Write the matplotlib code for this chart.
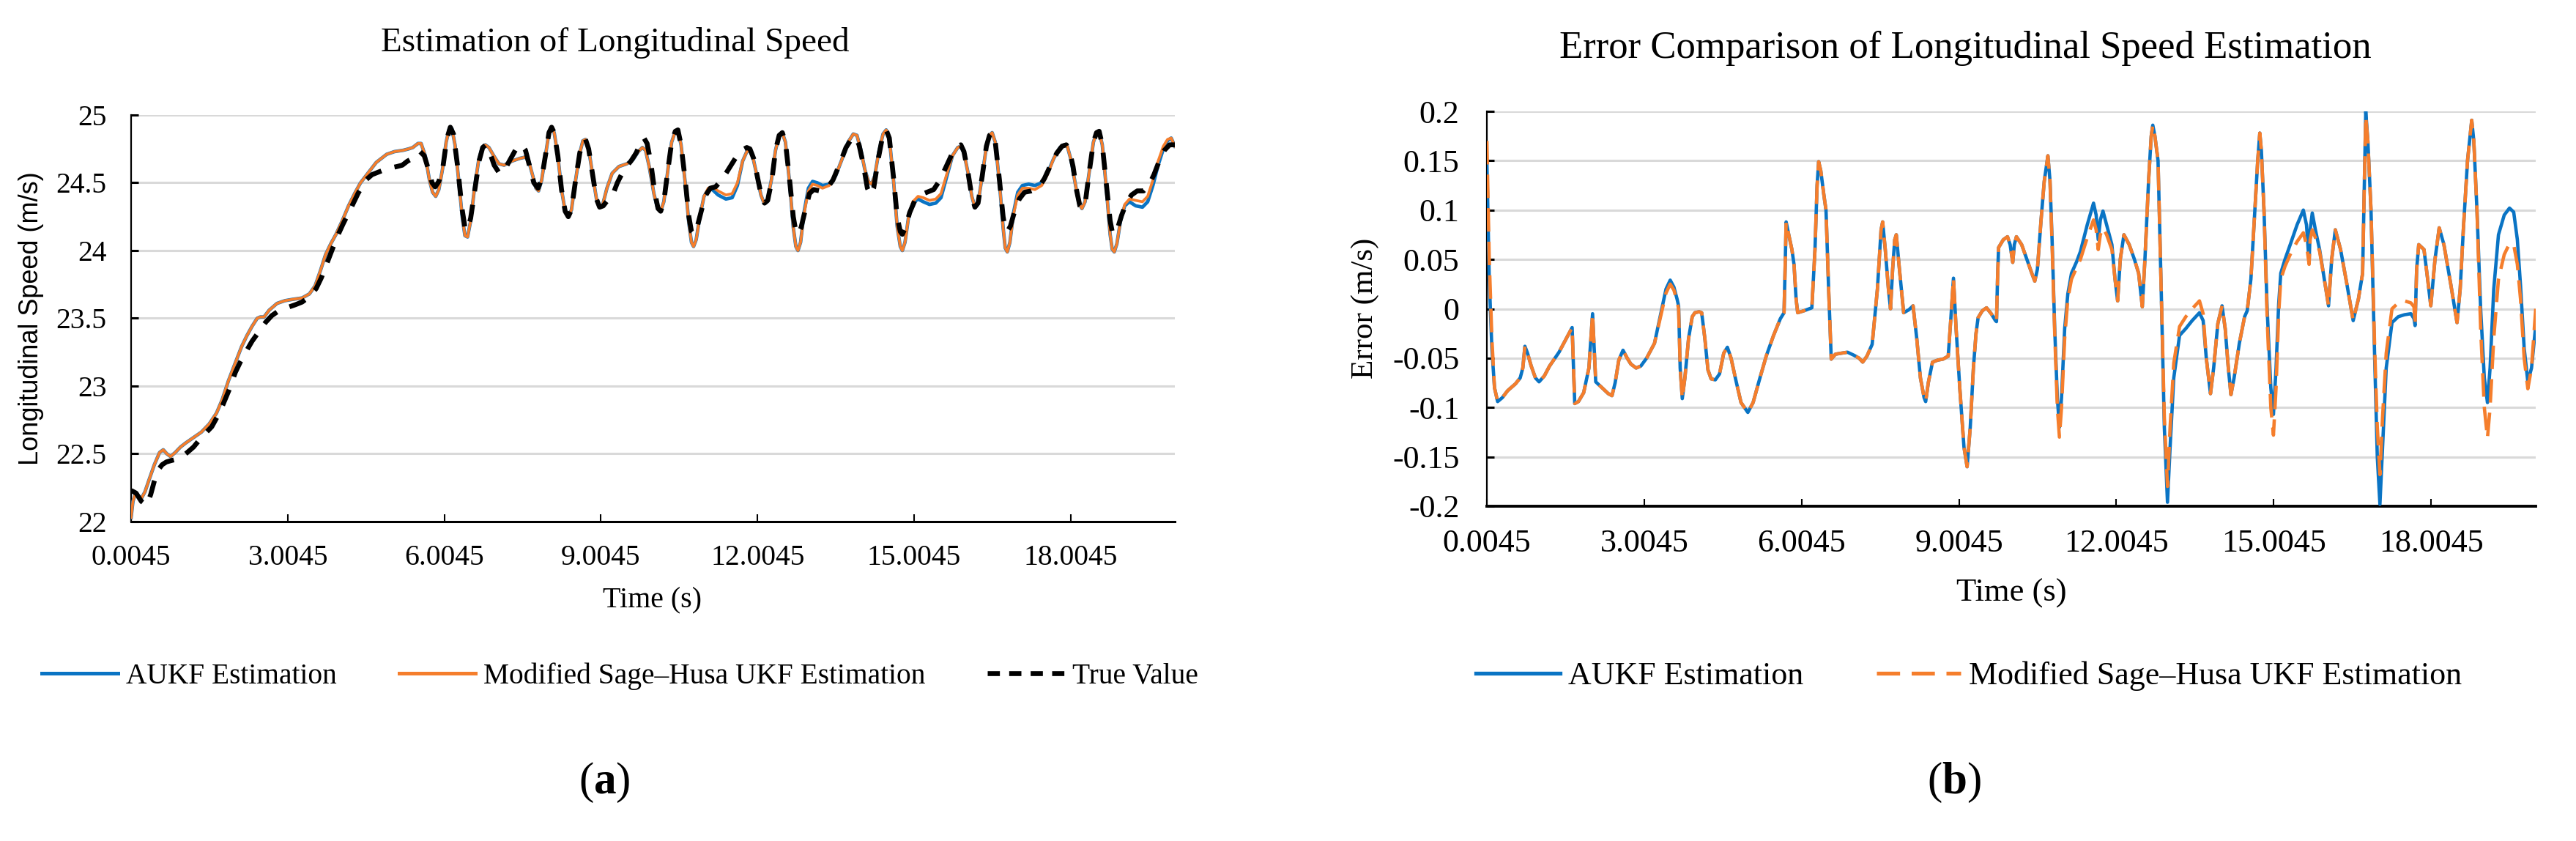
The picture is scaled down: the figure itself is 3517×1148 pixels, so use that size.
import matplotlib
matplotlib.use("Agg")
import matplotlib.pyplot as plt
from matplotlib.lines import Line2D

plt.rcParams['font.family'] = ['Liberation Serif', 'DejaVu Serif']
plt.rcParams['mathtext.fontset'] = 'custom'
plt.rcParams['mathtext.rm'] = 'Liberation Serif'
plt.rcParams['mathtext.bf'] = 'Liberation Serif:bold'

BLUE = '#0A74C4'
ORANGE = '#F57E2C'

# ---------------- (a) Longitudinal speed (m/s) ----------------
t_spd = [0.0045, 0.04, 0.08, 0.14, 0.2, 0.27, 0.35, 0.45, 0.55, 0.62,
         0.69, 0.76, 0.85, 0.95, 1.05, 1.2, 1.35, 1.5, 1.64, 1.75,
         1.87, 2.0, 2.12, 2.22, 2.32, 2.42, 2.48, 2.55, 2.65, 2.8,
         2.95, 3.1, 3.28, 3.42, 3.53, 3.63, 3.73, 3.83, 3.93, 4.05,
         4.17, 4.3, 4.4, 4.5, 4.6, 4.7, 4.8, 4.9, 5.05, 5.22,
         5.32, 5.40, 5.50, 5.56, 5.64, 5.72, 5.78, 5.84, 5.90, 5.97,
         6.04, 6.10, 6.15, 6.21, 6.28, 6.35, 6.40, 6.45, 6.51, 6.58,
         6.66, 6.73, 6.79, 6.86, 6.95, 7.05, 7.15, 7.30, 7.45, 7.56,
         7.63, 7.70, 7.76, 7.81, 7.87, 7.95, 8.01, 8.06, 8.11, 8.18,
         8.25, 8.32, 8.38, 8.44, 8.52, 8.60, 8.66, 8.71, 8.77, 8.85,
         8.92, 8.98, 9.04, 9.12, 9.22, 9.35, 9.50, 9.62, 9.72, 9.80,
         9.86, 9.93, 10.02, 10.09, 10.15, 10.21, 10.29, 10.36, 10.43, 10.48,
         10.54, 10.62, 10.69, 10.74, 10.78, 10.83, 10.90, 10.98, 11.06, 11.14,
         11.25, 11.40, 11.52, 11.62, 11.72, 11.80, 11.85, 11.91, 11.99, 12.07,
         12.13, 12.19, 12.27, 12.35, 12.42, 12.48, 12.54, 12.62, 12.69, 12.74,
         12.78, 12.83, 12.90, 12.98, 13.06, 13.15, 13.25, 13.38, 13.50, 13.62,
         13.74, 13.84, 13.91, 13.98, 14.06, 14.13, 14.19, 14.25, 14.33, 14.41,
         14.47, 14.53, 14.61, 14.68, 14.74, 14.78, 14.83, 14.90, 14.98, 15.08,
         15.18, 15.30, 15.42, 15.52, 15.62, 15.74, 15.84, 15.90, 15.96, 16.04,
         16.11, 16.17, 16.23, 16.31, 16.39, 16.45, 16.50, 16.56, 16.64, 16.71,
         16.75, 16.79, 16.84, 16.91, 16.99, 17.08, 17.20, 17.32, 17.45, 17.56,
         17.68, 17.80, 17.88, 17.94, 18.01, 18.09, 18.16, 18.22, 18.28, 18.36,
         18.44, 18.50, 18.55, 18.61, 18.69, 18.76, 18.80, 18.84, 18.89, 18.96,
         19.04, 19.13, 19.25, 19.38, 19.48, 19.58, 19.68, 19.78, 19.86, 19.93,
         20.00]
spd_msh = [22.03, 22.15, 22.2, 22.19, 22.17, 22.22, 22.31, 22.42, 22.51, 22.53,
           22.5, 22.48, 22.51, 22.55, 22.58, 22.62, 22.66, 22.72, 22.8, 22.9,
           23.04, 23.17, 23.29, 23.37, 23.44, 23.5, 23.51, 23.51, 23.56, 23.61,
           23.63, 23.64, 23.65, 23.68, 23.74, 23.85, 23.97, 24.05, 24.12, 24.22,
           24.33, 24.43, 24.5, 24.55, 24.6, 24.65, 24.68, 24.71, 24.73, 24.74,
           24.75, 24.76, 24.79, 24.79, 24.70, 24.52, 24.43, 24.40, 24.45, 24.60,
           24.80, 24.90, 24.90, 24.78, 24.52, 24.24, 24.11, 24.10, 24.22, 24.45,
           24.66, 24.76, 24.78, 24.76, 24.70, 24.64, 24.63, 24.66, 24.68, 24.69,
           24.65, 24.55, 24.46, 24.44, 24.52, 24.72, 24.87, 24.91, 24.87, 24.70,
           24.45, 24.29, 24.25, 24.30, 24.52, 24.72, 24.81, 24.82, 24.75, 24.55,
           24.38, 24.32, 24.34, 24.46, 24.57, 24.62, 24.64, 24.67, 24.73, 24.76,
           24.74, 24.62, 24.42, 24.31, 24.29, 24.36, 24.60, 24.80, 24.88, 24.89,
           24.78, 24.50, 24.20, 24.06, 24.03, 24.08, 24.25, 24.40, 24.46, 24.47,
           24.44, 24.41, 24.42, 24.50, 24.66, 24.73, 24.74, 24.70, 24.56, 24.41,
           24.35, 24.36, 24.52, 24.74, 24.85, 24.87, 24.80, 24.50, 24.17, 24.03,
           24.00, 24.06, 24.28, 24.44, 24.49, 24.48, 24.46, 24.48, 24.55, 24.67,
           24.80, 24.86, 24.85, 24.75, 24.60, 24.51, 24.49, 24.55, 24.73, 24.86,
           24.89, 24.83, 24.52, 24.18, 24.03, 24.00, 24.06, 24.25, 24.36, 24.40,
           24.39, 24.37, 24.38, 24.42, 24.55, 24.70, 24.76, 24.77, 24.72, 24.57,
           24.40, 24.32, 24.35, 24.55, 24.77, 24.85, 24.87, 24.80, 24.50, 24.17,
           24.02, 23.99, 24.06, 24.27, 24.41, 24.46, 24.46, 24.45, 24.48, 24.56,
           24.68, 24.76, 24.78, 24.77, 24.67, 24.50, 24.35, 24.31, 24.36, 24.58,
           24.80, 24.87, 24.88, 24.78, 24.45, 24.12, 24.01, 23.99, 24.05, 24.22,
           24.34, 24.38, 24.37, 24.36, 24.40, 24.52, 24.66, 24.77, 24.82, 24.83,
           24.77]
spd_aukf = [22.03, 22.15, 22.2, 22.19, 22.17, 22.22, 22.31, 22.42, 22.51, 22.53,
            22.5, 22.48, 22.51, 22.55, 22.58, 22.62, 22.66, 22.72, 22.8, 22.9,
            23.04, 23.17, 23.29, 23.37, 23.44, 23.5, 23.51, 23.51, 23.56, 23.61,
            23.63, 23.64, 23.65, 23.68, 23.74, 23.85, 23.97, 24.05, 24.12, 24.22,
            24.33, 24.43, 24.5, 24.55, 24.6, 24.65, 24.68, 24.71, 24.73, 24.74,
            24.75, 24.76, 24.79, 24.79, 24.70, 24.52, 24.43, 24.40, 24.45, 24.60,
            24.80, 24.90, 24.90, 24.78, 24.52, 24.24, 24.11, 24.10, 24.22, 24.45,
            24.66, 24.76, 24.78, 24.76, 24.70, 24.64, 24.63, 24.66, 24.68, 24.69,
            24.65, 24.55, 24.46, 24.44, 24.52, 24.72, 24.87, 24.91, 24.87, 24.70,
            24.45, 24.29, 24.25, 24.30, 24.52, 24.72, 24.81, 24.82, 24.75, 24.55,
            24.38, 24.32, 24.34, 24.46, 24.57, 24.62, 24.64, 24.67, 24.73, 24.76,
            24.74, 24.62, 24.42, 24.31, 24.29, 24.36, 24.60, 24.80, 24.88, 24.89,
            24.78, 24.50, 24.20, 24.06, 24.03, 24.08, 24.25, 24.40, 24.45, 24.45,
            24.41, 24.38, 24.39, 24.48, 24.66, 24.73, 24.74, 24.70, 24.56, 24.41,
            24.35, 24.36, 24.52, 24.74, 24.85, 24.87, 24.80, 24.50, 24.17, 24.03,
            24.00, 24.06, 24.29, 24.46, 24.51, 24.50, 24.48, 24.49, 24.55, 24.67,
            24.80, 24.86, 24.85, 24.75, 24.60, 24.51, 24.49, 24.55, 24.73, 24.86,
            24.89, 24.83, 24.52, 24.18, 24.03, 24.00, 24.06, 24.25, 24.35, 24.38,
            24.36, 24.34, 24.35, 24.39, 24.53, 24.70, 24.76, 24.77, 24.72, 24.57,
            24.40, 24.32, 24.35, 24.55, 24.77, 24.85, 24.87, 24.80, 24.50, 24.17,
            24.02, 23.99, 24.06, 24.28, 24.43, 24.48, 24.49, 24.48, 24.50, 24.57,
            24.68, 24.76, 24.78, 24.77, 24.67, 24.50, 24.35, 24.31, 24.36, 24.58,
            24.80, 24.87, 24.88, 24.78, 24.45, 24.12, 24.01, 23.99, 24.05, 24.22,
            24.33, 24.36, 24.33, 24.32, 24.36, 24.48, 24.63, 24.75, 24.81, 24.83,
            24.77]

t_true = [0.0045, 0.1, 0.2, 0.3, 0.38, 0.45, 0.52, 0.6, 0.68, 0.77,
          0.87, 0.95, 1.08, 1.2, 1.35, 1.55, 1.65, 1.75, 1.88, 2.0,
          2.1, 2.2, 2.32, 2.45, 2.58, 2.7, 2.85, 3.0, 3.15, 3.28,
          3.42, 3.55, 3.65, 3.75, 3.85, 3.95, 4.07, 4.2, 4.35, 4.5,
          4.62, 4.75, 4.88, 4.98, 5.1, 5.2, 5.3, 5.40, 5.54, 5.62,
          5.70, 5.77, 5.83, 5.90, 5.98, 6.05, 6.12, 6.18, 6.26, 6.34,
          6.40, 6.45, 6.51, 6.59, 6.67, 6.74, 6.80, 6.87, 6.96, 7.06,
          7.14, 7.25, 7.38, 7.48, 7.56, 7.64, 7.72, 7.80, 7.87, 7.95,
          8.01, 8.06, 8.11, 8.18, 8.25, 8.32, 8.38, 8.44, 8.52, 8.60,
          8.66, 8.71, 8.77, 8.85, 8.92, 8.98, 9.05, 9.15, 9.22, 9.32,
          9.45, 9.58, 9.68, 9.77, 9.83, 9.89, 9.96, 10.04, 10.10, 10.15,
          10.21, 10.29, 10.36, 10.43, 10.48, 10.54, 10.62, 10.69, 10.74, 10.78,
          10.84, 10.92, 11.00, 11.10, 11.20, 11.32, 11.45, 11.58, 11.70, 11.80,
          11.86, 11.93, 12.00, 12.08, 12.14, 12.20, 12.28, 12.35, 12.42, 12.48,
          12.54, 12.62, 12.69, 12.74, 12.78, 12.84, 12.92, 13.00, 13.08, 13.20,
          13.32, 13.45, 13.58, 13.70, 13.80, 13.88, 13.95, 14.03, 14.11, 14.17,
          14.23, 14.32, 14.40, 14.47, 14.53, 14.61, 14.68, 14.74, 14.78, 14.84,
          14.92, 15.02, 15.12, 15.25, 15.38, 15.50, 15.62, 15.74, 15.84, 15.90,
          15.96, 16.04, 16.11, 16.17, 16.23, 16.31, 16.39, 16.45, 16.50, 16.56,
          16.64, 16.71, 16.75, 16.79, 16.85, 16.93, 17.02, 17.12, 17.25, 17.38,
          17.50, 17.62, 17.74, 17.84, 17.92, 17.98, 18.05, 18.12, 18.18, 18.23,
          18.29, 18.36, 18.44, 18.50, 18.55, 18.61, 18.69, 18.76, 18.80, 18.84,
          18.90, 18.98, 19.07, 19.17, 19.28, 19.40, 19.50, 19.60, 19.70, 19.80,
          19.90, 20.00]
spd_true = [22.23, 22.21, 22.15, 22.12, 22.2, 22.3, 22.38, 22.42, 22.44, 22.45,
            22.46, 22.47, 22.51, 22.55, 22.62, 22.7, 22.77, 22.85, 22.97, 23.1,
            23.18, 23.25, 23.33, 23.4, 23.47, 23.52, 23.56, 23.58, 23.6, 23.62,
            23.66, 23.72, 23.8, 23.9, 24.0, 24.1, 24.2, 24.3, 24.42, 24.52,
            24.56, 24.58, 24.6, 24.61, 24.62, 24.63, 24.66, 24.68, 24.73, 24.70,
            24.60, 24.50, 24.47, 24.51, 24.62, 24.82, 24.91, 24.86, 24.62, 24.32,
            24.17, 24.15, 24.24, 24.45, 24.66, 24.76, 24.78, 24.73, 24.63, 24.57,
            24.58, 24.66, 24.75, 24.78, 24.74, 24.62, 24.50, 24.46, 24.53, 24.72,
            24.87, 24.91, 24.87, 24.70, 24.45, 24.29, 24.25, 24.30, 24.52, 24.72,
            24.81, 24.82, 24.75, 24.55, 24.38, 24.32, 24.33, 24.38, 24.40, 24.50,
            24.60, 24.66, 24.72, 24.80, 24.83, 24.79, 24.65, 24.42, 24.31, 24.29,
            24.36, 24.60, 24.80, 24.88, 24.89, 24.78, 24.52, 24.25, 24.14, 24.12,
            24.16, 24.28, 24.40, 24.46, 24.47, 24.52, 24.60, 24.68, 24.74, 24.76,
            24.75, 24.68, 24.55, 24.40, 24.35, 24.37, 24.52, 24.74, 24.85, 24.87,
            24.80, 24.52, 24.25, 24.14, 24.12, 24.17, 24.30, 24.42, 24.45, 24.44,
            24.45, 24.52, 24.64, 24.76, 24.82, 24.84, 24.78, 24.64, 24.46, 24.41,
            24.46, 24.68, 24.84, 24.89, 24.83, 24.54, 24.25, 24.14, 24.12, 24.17,
            24.28, 24.37, 24.41, 24.43, 24.45, 24.52, 24.62, 24.72, 24.77, 24.78,
            24.73, 24.57, 24.40, 24.32, 24.35, 24.55, 24.77, 24.85, 24.87, 24.80,
            24.52, 24.25, 24.16, 24.14, 24.18, 24.29, 24.38, 24.43, 24.44, 24.46,
            24.53, 24.63, 24.72, 24.77, 24.78, 24.74, 24.62, 24.44, 24.33, 24.31,
            24.37, 24.58, 24.80, 24.87, 24.88, 24.78, 24.48, 24.22, 24.14, 24.12,
            24.16, 24.26, 24.35, 24.41, 24.44, 24.44, 24.48, 24.56, 24.66, 24.74,
            24.78, 24.78]

# ---------------- (b) Estimation error (m/s) ----------------
t_err = [0.0045, 0.05, 0.10, 0.15, 0.21, 0.30, 0.40, 0.55, 0.64, 0.69,
         0.73, 0.78, 0.85, 0.93, 1.00, 1.10, 1.20, 1.38, 1.50, 1.63,
         1.68, 1.75, 1.85, 1.95, 2.00, 2.02, 2.05, 2.08, 2.20, 2.32,
         2.39, 2.45, 2.52, 2.60, 2.68, 2.75, 2.85, 2.94, 3.05, 3.20,
         3.32, 3.42, 3.50, 3.57, 3.63, 3.66, 3.69, 3.73, 3.78, 3.85,
         3.92, 3.97, 4.05, 4.10, 4.16, 4.22, 4.28, 4.36, 4.44, 4.52,
         4.59, 4.66, 4.75, 4.85, 4.98, 5.08, 5.20, 5.33, 5.47, 5.60,
         5.67, 5.69, 5.71, 5.76, 5.82, 5.86, 5.90, 5.93, 6.05, 6.20,
         6.26, 6.30, 6.33, 6.37, 6.43, 6.47, 6.52, 6.57, 6.65, 6.76,
         6.88, 7.00, 7.10, 7.17, 7.25, 7.35, 7.45, 7.52, 7.55, 7.60,
         7.66, 7.70, 7.74, 7.78, 7.81, 7.87, 7.95, 8.05, 8.13, 8.20,
         8.27, 8.34, 8.37, 8.42, 8.50, 8.60, 8.70, 8.80, 8.85, 8.90,
         8.95, 9.02, 9.10, 9.16, 9.22, 9.28, 9.33, 9.37, 9.45, 9.53,
         9.62, 9.70, 9.72, 9.74, 9.76, 9.85, 9.93, 9.98, 10.03, 10.06,
         10.10, 10.20, 10.30, 10.40, 10.45, 10.50, 10.57, 10.63, 10.70, 10.74,
         10.78, 10.83, 10.88, 10.92, 10.96, 11.02, 11.08, 11.15, 11.25, 11.32,
         11.45, 11.57, 11.62, 11.66, 11.70, 11.75, 11.82, 11.92, 11.98, 12.03,
         12.08, 12.15, 12.25, 12.35, 12.43, 12.50, 12.55, 12.62, 12.67, 12.70,
         12.74, 12.80, 12.86, 12.92, 12.98, 13.03, 13.10, 13.21, 13.33, 13.45,
         13.59, 13.66, 13.72, 13.80, 13.86, 13.94, 14.02, 14.08, 14.14, 14.19,
         14.25, 14.35, 14.45, 14.50, 14.57, 14.63, 14.70, 14.74, 14.77, 14.82,
         14.88, 14.95, 15.00, 15.05, 15.10, 15.14, 15.22, 15.32, 15.45, 15.57,
         15.63, 15.68, 15.70, 15.74, 15.80, 15.88, 15.97, 16.05, 16.11, 16.18,
         16.28, 16.40, 16.52, 16.62, 16.70, 16.73, 16.76, 16.80, 16.86, 16.93,
         16.98, 17.03, 17.08, 17.15, 17.26, 17.38, 17.50, 17.62, 17.68, 17.70,
         17.73, 17.77, 17.87, 17.94, 18.00, 18.08, 18.16, 18.25, 18.38, 18.50,
         18.56, 18.62, 18.70, 18.78, 18.82, 18.88, 18.95, 19.02, 19.08, 19.13,
         19.20, 19.29, 19.40, 19.50, 19.58, 19.65, 19.71, 19.78, 19.85, 19.92,
         20.00]
err_aukf = [0.150, 0.030, -0.040, -0.080, -0.094, -0.090, -0.083, -0.076, -0.070, -0.060,
            -0.038, -0.045, -0.058, -0.070, -0.074, -0.068, -0.058, -0.044, -0.032, -0.019,
            -0.096, -0.094, -0.085, -0.060, -0.020, -0.005, -0.040, -0.074, -0.080, -0.086,
            -0.088, -0.075, -0.052, -0.042, -0.050, -0.056, -0.060, -0.058, -0.050, -0.035,
            -0.005, 0.020, 0.029, 0.022, 0.010, 0.003, -0.060, -0.091, -0.070, -0.030,
            -0.008, -0.004, -0.003, -0.004, -0.030, -0.062, -0.071, -0.072, -0.066, -0.045,
            -0.039, -0.050, -0.072, -0.095, -0.105, -0.095, -0.072, -0.048, -0.027, -0.010,
            -0.004, 0.040, 0.088, 0.075, 0.060, 0.045, 0.010, -0.004, -0.002, 0.001,
            0.060, 0.125, 0.149, 0.140, 0.115, 0.100, 0.020, -0.051, -0.046, -0.045,
            -0.044, -0.047, -0.050, -0.054, -0.048, -0.036, 0.020, 0.080, 0.088, 0.060,
            0.020, 0.000, 0.040, 0.070, 0.075, 0.040, -0.004, -0.001, 0.003, -0.030,
            -0.070, -0.090, -0.094, -0.075, -0.054, -0.052, -0.051, -0.048, -0.010, 0.031,
            -0.020, -0.080, -0.140, -0.160, -0.120, -0.060, -0.025, -0.009, -0.002, 0.001,
            -0.005, -0.012, -0.013, 0.030, 0.062, 0.070, 0.073, 0.065, 0.047, 0.065,
            0.073, 0.065, 0.050, 0.035, 0.028, 0.040, 0.090, 0.129, 0.155, 0.130,
            0.070, -0.020, -0.090, -0.120, -0.090, -0.020, 0.015, 0.036, 0.048, 0.058,
            0.085, 0.107, 0.095, 0.070, 0.090, 0.099, 0.085, 0.065, 0.030, 0.008,
            0.050, 0.075, 0.065, 0.050, 0.036, 0.002, 0.050, 0.130, 0.175, 0.186,
            0.175, 0.150, 0.020, -0.120, -0.196, -0.140, -0.070, -0.027, -0.020, -0.012,
            -0.004, -0.012, -0.050, -0.086, -0.060, -0.015, 0.003, -0.020, -0.060, -0.087,
            -0.070, -0.035, -0.008, -0.002, 0.030, 0.085, 0.150, 0.178, 0.160, 0.100,
            0.000, -0.080, -0.107, -0.060, 0.005, 0.036, 0.050, 0.065, 0.085, 0.100,
            0.085, 0.047, 0.080, 0.097, 0.080, 0.060, 0.030, 0.003, 0.050, 0.080,
            0.060, 0.025, -0.012, 0.010, 0.036, 0.120, 0.200, 0.170, 0.100, -0.050,
            -0.150, -0.198, -0.140, -0.060, -0.014, -0.008, -0.006, -0.005, -0.010, -0.017,
            0.040, 0.065, 0.060, 0.030, 0.003, 0.050, 0.082, 0.065, 0.025, -0.014,
            0.020, 0.080, 0.150, 0.191, 0.170, 0.100, 0.000, -0.070, -0.095, -0.060,
            0.020, 0.075, 0.095, 0.102, 0.098, 0.070, 0.024, -0.040, -0.074, -0.060,
            -0.017]
err_msh = [0.170, 0.050, -0.030, -0.080, -0.094, -0.090, -0.083, -0.076, -0.070, -0.060,
           -0.038, -0.045, -0.058, -0.070, -0.074, -0.068, -0.058, -0.044, -0.032, -0.019,
           -0.096, -0.094, -0.085, -0.060, -0.020, -0.005, -0.040, -0.074, -0.080, -0.086,
           -0.088, -0.075, -0.052, -0.042, -0.050, -0.056, -0.060, -0.058, -0.050, -0.035,
           -0.007, 0.016, 0.025, 0.019, 0.008, 0.000, -0.060, -0.091, -0.070, -0.030,
           -0.008, -0.004, -0.003, -0.004, -0.030, -0.062, -0.071, -0.072, -0.066, -0.045,
           -0.039, -0.050, -0.072, -0.095, -0.105, -0.095, -0.072, -0.048, -0.027, -0.010,
           -0.004, 0.040, 0.088, 0.075, 0.060, 0.045, 0.010, -0.004, -0.002, 0.001,
           0.060, 0.125, 0.149, 0.140, 0.115, 0.100, 0.020, -0.051, -0.046, -0.045,
           -0.044, -0.047, -0.050, -0.054, -0.048, -0.036, 0.020, 0.080, 0.088, 0.060,
           0.020, 0.000, 0.040, 0.070, 0.075, 0.040, -0.004, -0.001, 0.003, -0.030,
           -0.070, -0.090, -0.094, -0.075, -0.054, -0.052, -0.051, -0.048, -0.010, 0.031,
           -0.020, -0.080, -0.140, -0.160, -0.120, -0.060, -0.025, -0.009, -0.002, 0.001,
           -0.005, -0.012, -0.013, 0.030, 0.062, 0.070, 0.073, 0.065, 0.047, 0.065,
           0.073, 0.065, 0.050, 0.035, 0.028, 0.040, 0.090, 0.129, 0.155, 0.130,
           0.065, -0.025, -0.100, -0.130, -0.100, -0.030, 0.010, 0.030, 0.042, 0.050,
           0.072, 0.090, 0.080, 0.060, 0.075, 0.082, 0.075, 0.060, 0.030, 0.008,
           0.050, 0.075, 0.065, 0.050, 0.036, 0.002, 0.050, 0.130, 0.175, 0.186,
           0.175, 0.150, 0.020, -0.110, -0.180, -0.120, -0.055, -0.018, -0.008, 0.000,
           0.008, -0.005, -0.050, -0.086, -0.060, -0.015, 0.003, -0.020, -0.060, -0.087,
           -0.070, -0.035, -0.008, -0.002, 0.030, 0.085, 0.150, 0.178, 0.160, 0.100,
           -0.010, -0.100, -0.128, -0.080, -0.005, 0.030, 0.043, 0.055, 0.068, 0.077,
           0.065, 0.045, 0.070, 0.080, 0.072, 0.058, 0.030, 0.003, 0.050, 0.080,
           0.060, 0.025, -0.012, 0.010, 0.036, 0.120, 0.195, 0.170, 0.100, -0.040,
           -0.120, -0.168, -0.110, -0.045, 0.000, 0.006, 0.008, 0.006, 0.002, -0.017,
           0.040, 0.065, 0.060, 0.030, 0.003, 0.050, 0.082, 0.065, 0.025, -0.014,
           0.020, 0.080, 0.150, 0.191, 0.170, 0.100, -0.020, -0.100, -0.131, -0.100,
           -0.030, 0.030, 0.055, 0.066, 0.065, 0.045, 0.010, -0.050, -0.081, -0.060,
           0.000]

x_ticks = [0.0045, 3.0045, 6.0045, 9.0045, 12.0045, 15.0045, 18.0045]
x_ticklabels = ['0.0045', '3.0045', '6.0045', '9.0045', '12.0045', '15.0045', '18.0045']
y1_ticks = [22, 22.5, 23, 23.5, 24, 24.5, 25]
y1_ticklabels = ['22', '22.5', '23', '23.5', '24', '24.5', '25']
y2_ticks = [-0.2, -0.15, -0.1, -0.05, 0, 0.05, 0.1, 0.15, 0.2]
y2_ticklabels = ['-0.2', '-0.15', '-0.1', '-0.05', '0', '0.05', '0.1', '0.15', '0.2']

W, H = 3517, 1148
fig = plt.figure(figsize=(W / 100, H / 100), dpi=100)
fig.patch.set_facecolor('white')


def fx(px):
    return px / W


def fy(py):
    return 1 - py / H


ax1 = fig.add_axes([fx(179), fy(712), fx(1604) - fx(179), fy(157) - fy(712)])
ax2 = fig.add_axes([fx(2030), fy(691), fx(3462) - fx(2030), fy(152) - fy(691)])

# --- panel a lines
ax1.plot(t_spd, spd_aukf, color=BLUE, lw=3.4, zorder=3, solid_joinstyle='round')
ax1.plot(t_spd, spd_msh, color=ORANGE, lw=2.7, zorder=4, solid_joinstyle='round')
ax1.plot(t_true, spd_true, color='black', lw=4.8, dashes=(3.5, 2.8), zorder=5)

# --- panel b lines
ax2.plot(t_err, err_aukf, color=BLUE, lw=3.3, zorder=3, solid_joinstyle='round')
ax2.plot(t_err, err_msh, color=ORANGE, lw=3.3, dashes=(7, 3), zorder=4)


def style(ax, yt, ytl, ylim, fs, xpad, ypad, bottom_lw):
    ax.set_xlim(0.0045, 20.0)
    ax.set_ylim(*ylim)
    ax.set_xticks(x_ticks)
    ax.set_xticklabels(x_ticklabels)
    ax.set_yticks(yt)
    ax.set_yticklabels(ytl)
    for s in ['top', 'right']:
        ax.spines[s].set_visible(False)
    ax.spines['left'].set_linewidth(1.6)
    ax.spines['bottom'].set_linewidth(bottom_lw)
    ax.tick_params(axis='x', direction='in', length=7.5, width=1.5, pad=xpad, labelsize=fs)
    ax.tick_params(axis='y', direction='in', length=7.5, width=2.2, pad=ypad, labelsize=fs)
    ax.yaxis.grid(True, color='#d9d9d9', lw=2.2)
    ax.set_axisbelow(True)
    ax.set_facecolor('white')


style(ax1, y1_ticks, y1_ticklabels, (22, 25), 28.5, 22, 24, 2.2)
style(ax2, y2_ticks, y2_ticklabels, (-0.2, 0.2), 31.7, 22, 27, 2.8)

# titles and labels
fig.text(fx(840), fy(58), 'Estimation of Longitudinal Speed', ha='center', va='center', fontsize=34)
fig.text(fx(2683), fy(66), 'Error Comparison of Longitudinal Speed Estimation', ha='center', va='center', fontsize=38)
fig.text(fx(890), fy(820), 'Time (s)', ha='center', va='center', fontsize=28.8)
fig.text(fx(2746), fy(810), 'Time (s)', ha='center', va='center', fontsize=32)
fig.text(fx(43), fy(435), 'Longitudinal Speed (m/s)', ha='center', va='center', rotation=90,
         fontsize=26, family=['Liberation Sans', 'DejaVu Sans'])
fig.text(fx(1864), fy(421), 'Error (m/s)', ha='center', va='center', rotation=90, fontsize=31)

# legends
h1 = [Line2D([], [], color=BLUE, lw=3.6),
      Line2D([], [], color=ORANGE, lw=3.6),
      Line2D([], [], color='black', lw=4.8, dashes=(2.5, 1.9))]
l1 = ['AUKF Estimation', 'Modified Sage\u2013Husa UKF Estimation', 'True Value']
fig.legend(h1, l1, loc='center', bbox_to_anchor=(fx(846), fy(923)), ncol=3, frameon=False,
           fontsize=28.4, handlelength=2.64, handletextpad=0.28, columnspacing=2.16)

h2 = [Line2D([], [], color=BLUE, lw=3.8),
      Line2D([], [], color=ORANGE, lw=3.8, dashes=(6, 3))]
l2 = ['AUKF Estimation', 'Modified Sage\u2013Husa UKF Estimation']
fig.legend(h2, l2, loc='center', bbox_to_anchor=(fx(2688), fy(923)), ncol=2, frameon=False,
           fontsize=31.7, handlelength=2.6, handletextpad=0.25, columnspacing=2.27)

# panel letters
fig.text(fx(825), fy(1068), r'($\mathbf{a}$)', ha='center', va='center', fontsize=44)
fig.text(fx(2668), fy(1068), r'($\mathbf{b}$)', ha='center', va='center', fontsize=44)

fig.savefig('out.png', dpi=100, facecolor='white')
